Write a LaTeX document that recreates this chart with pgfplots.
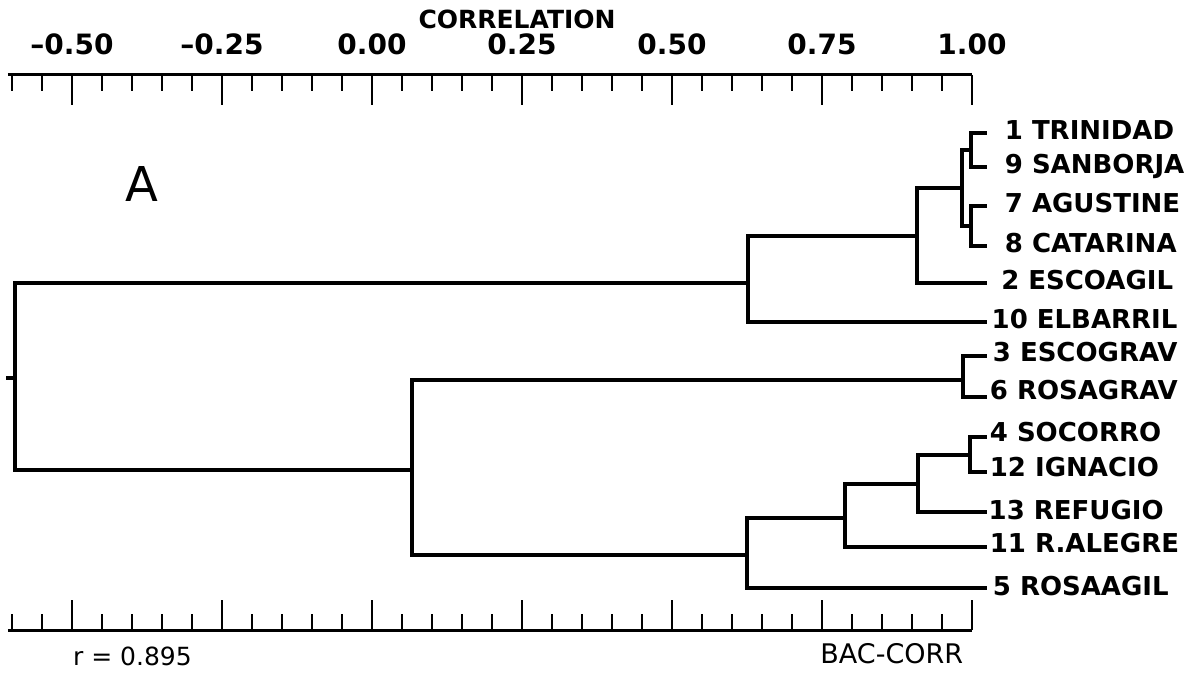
\documentclass[border=0pt]{standalone}
\usepackage{fontspec}
\setmainfont{DejaVu Sans}
\usepackage{pgfplots}
\pgfplotsset{compat=1.18}
\tikzset{
  br/.style={black, line width=1.75pt, line cap=rect},
  lab/.style={anchor=base west, font=\fontsize{13}{15}\selectfont\bfseries},
}

\begin{document}
\begin{tikzpicture}
\useasboundingbox (-4pt,-22pt) rectangle (593.5pt,315pt);
\begin{axis}[
  scale only axis, width=482pt, height=277.5pt,
  xmin=-0.6067, xmax=1.0, ymin=75, ymax=630, y dir=reverse,
  axis x line=box, axis y line=none, ytick=\empty,
  axis line style={line width=1.5pt},
  clip=false,
  xtick={-0.5,-0.25,0,0.25,0.5,0.75,1},
  xticklabels={--0.50,--0.25,0.00,0.25,0.50,0.75,1.00},
  minor xtick={-0.60,-0.55,-0.45,-0.40,-0.35,-0.30,-0.20,-0.15,-0.10,-0.05,0.05,0.10,0.15,0.20,0.30,0.35,0.40,0.45,0.55,0.60,0.65,0.70,0.80,0.85,0.90,0.95},
  xticklabel pos=upper, tick align=inside,
  major tick length=15pt, minor tick length=8pt,
  every tick/.style={black, line width=1.4pt},
  xticklabel style={font=\fontsize{14}{16}\selectfont\bfseries, inner sep=0pt, anchor=south, yshift=10pt},
]
% top cluster
\addplot[br] coordinates {(1.022,133) (0.998,133) (0.998,167) (1.022,167)};
\addplot[br] coordinates {(1.022,206) (0.998,206) (0.998,246) (1.022,246)};
\addplot[br] coordinates {(0.998,150) (0.983,150) (0.983,226) (0.998,226)};
\addplot[br] coordinates {(0.983,188) (0.908,188) (0.908,283) (1.022,283)};
\addplot[br] coordinates {(0.908,236) (0.627,236) (0.627,322) (1.022,322)};
% bottom cluster
\addplot[br] coordinates {(1.022,356) (0.985,356) (0.985,397) (1.022,397)};
\addplot[br] coordinates {(1.022,437) (0.997,437) (0.997,472) (1.022,472)};
\addplot[br] coordinates {(0.997,455) (0.910,455) (0.910,512) (1.022,512)};
\addplot[br] coordinates {(0.910,484) (0.788,484) (0.788,547) (1.022,547)};
\addplot[br] coordinates {(0.788,518) (0.625,518) (0.625,588) (1.022,588)};
\addplot[br] coordinates {(0.985,380) (0.067,380) (0.067,555) (0.625,555)};
% root
\addplot[br] coordinates {(0.627,283) (-0.595,283) (-0.595,470) (0.067,470)};
\addplot[br] coordinates {(-0.6067,378) (-0.595,378)};

\node[lab] at (axis cs:1.0430,140) {1 TRINIDAD};
\node[lab] at (axis cs:1.0430,174) {9 SANBORJA};
\node[lab] at (axis cs:1.0430,213) {7 AGUSTINE};
\node[lab] at (axis cs:1.0430,253) {8 CATARINA};
\node[lab] at (axis cs:1.0370,290) {2 ESCOAGIL};
\node[lab] at (axis cs:1.0210,329) {10 ELBARRIL};
\node[lab] at (axis cs:1.0230,362) {3 ESCOGRAV};
\node[lab] at (axis cs:1.0180,400) {6 ROSAGRAV};
\node[lab] at (axis cs:1.0180,442) {4 SOCORRO};
\node[lab] at (axis cs:1.0180,477) {12 IGNACIO};
\node[lab] at (axis cs:1.0160,520) {13 REFUGIO};
\node[lab] at (axis cs:1.0180,553) {11 R.ALEGRE};
\node[lab] at (axis cs:1.0230,595) {5 ROSAAGIL};

\node[anchor=base, font=\fontsize{12.5}{14}\selectfont\bfseries] at (axis cs:0.2417,29) {CORRELATION};
\node[anchor=base, font=\fontsize{24}{28}\selectfont] at (axis cs:-0.383,202) {A};
\node[anchor=base west, font=\fontsize{12.5}{15}\selectfont] at (axis cs:-0.51,665) {r = 0.895};
\node[anchor=base east, font=\fontsize{13.5}{16}\selectfont] at (axis cs:0.997,663) {BAC-CORR};
\end{axis}
\end{tikzpicture}
\end{document}
